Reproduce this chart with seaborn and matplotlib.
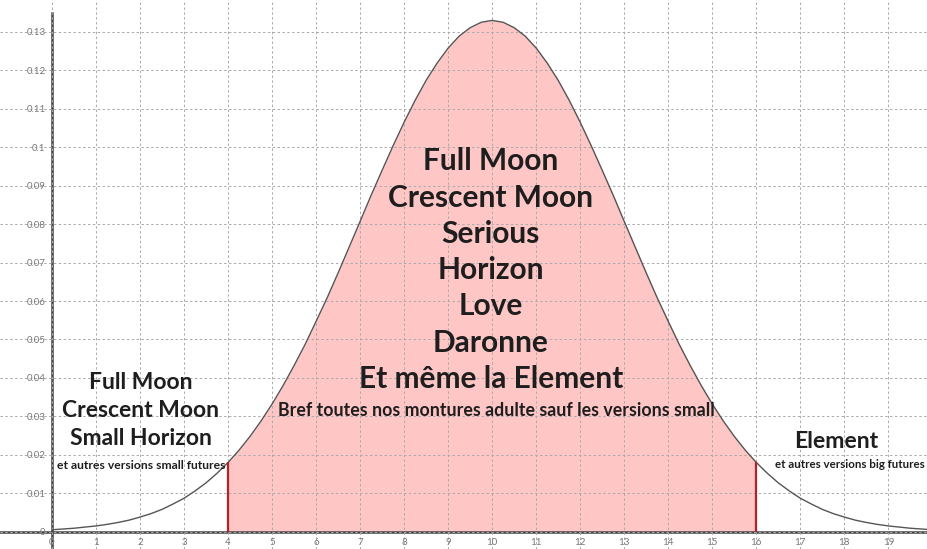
import numpy as np
import matplotlib
matplotlib.use("Agg")
import matplotlib.pyplot as plt
import seaborn as sns

# curve (density vs size), step 0.25
x_vals = [0, 0.25, 0.5, 0.75, 1, 1.25, 1.5, 1.75, 2, 2.25, 2.5, 2.75, 3, 3.25, 3.5, 3.75,
          4, 4.25, 4.5, 4.75, 5, 5.25, 5.5, 5.75, 6, 6.25, 6.5, 6.75, 7, 7.25, 7.5, 7.75,
          8, 8.25, 8.5, 8.75, 9, 9.25, 9.5, 9.75, 10, 10.25, 10.5, 10.75, 11, 11.25, 11.5,
          11.75, 12, 12.25, 12.5, 12.75, 13, 13.25, 13.5, 13.75, 14, 14.25, 14.5, 14.75,
          15, 15.25, 15.5, 15.75, 16, 16.25, 16.5, 16.75, 17, 17.25, 17.5, 17.75, 18, 18.25,
          18.5, 18.75, 19, 19.25, 19.5, 19.75, 20]
y_vals = [0.0005, 0.0007, 0.0009, 0.0012, 0.0015, 0.0019, 0.0024, 0.0030, 0.0038, 0.0047,
          0.0058, 0.0072, 0.0087, 0.0106, 0.0127, 0.0152, 0.0180, 0.0212, 0.0248, 0.0288,
          0.0332, 0.0380, 0.0432, 0.0487, 0.0547, 0.0608, 0.0673, 0.0740, 0.0807, 0.0875,
          0.0940, 0.1004, 0.1065, 0.1122, 0.1174, 0.1219, 0.1258, 0.1289, 0.1311, 0.1325,
          0.1330, 0.1325, 0.1311, 0.1289, 0.1258, 0.1219, 0.1174, 0.1122, 0.1065, 0.1004,
          0.0940, 0.0875, 0.0807, 0.0740, 0.0673, 0.0608, 0.0547, 0.0487, 0.0432, 0.0380,
          0.0332, 0.0288, 0.0248, 0.0212, 0.0180, 0.0152, 0.0127, 0.0106, 0.0087, 0.0072,
          0.0058, 0.0047, 0.0038, 0.0030, 0.0024, 0.0019, 0.0015, 0.0012, 0.0009, 0.0007,
          0.0005]
range_low, range_high = 4, 16

x_ticks = list(range(0, 20))
y_ticks = [0, 0.01, 0.02, 0.03, 0.04, 0.05, 0.06, 0.07, 0.08, 0.09, 0.1, 0.11, 0.12, 0.13]
y_tick_labels = ["0", "0.01", "0.02", "0.03", "0.04", "0.05", "0.06", "0.07", "0.08",
                 "0.09", "0.1", "0.11", "0.12", "0.13"]

center_text = "Full Moon\nCrescent Moon\nSerious\nHorizon\nLove\nDaronne\nEt même la Element"
center_note = "Bref toutes nos montures adulte sauf les versions small"
left_text = "Full Moon\nCrescent Moon\nSmall Horizon"
left_note = "et autres versions small futures"
right_text = "Element"
right_note = "et autres versions big futures"

sns.set_style("white")
plt.rcParams["font.family"] = ["Lato", "DejaVu Sans"]

fig = plt.figure(figsize=(9.28, 5.49), dpi=100)
ax = fig.add_axes([0, 0, 1, 1])

xs = np.array(x_vals)
ys = np.array(y_vals)
mask = (xs >= range_low) & (xs <= range_high)
ax.fill_between(xs, ys, where=mask, color="#ffc6c6", linewidth=0, zorder=1)
sns.lineplot(x=x_vals, y=y_vals, ax=ax, color="#555555", linewidth=1.0, zorder=3)
edge_y = [y_vals[x_vals.index(range_low)], y_vals[x_vals.index(range_high)]]
ax.vlines([range_low, range_high], 0, edge_y, color="#b5202a", linewidth=1.6, zorder=4)

ax.set_xlim(-1.18, 19.9)
ax.set_ylim(-0.0045, 0.1383)

ax.set_xticks(x_ticks)
ax.set_xticklabels([str(t) for t in x_ticks])
ax.set_yticks(y_ticks)
ax.set_yticklabels(y_tick_labels)
ax.xaxis.get_majorticklabels()[0].set_horizontalalignment("left")

ax.grid(True, color="#aaaaaa", linestyle=(0, (2.5, 2.5)), linewidth=0.7)
ax.set_axisbelow(False)

for side in ["top", "right"]:
    ax.spines[side].set_visible(False)
ax.spines["left"].set_position(("data", 0))
ax.spines["bottom"].set_position(("data", 0))
ax.spines["left"].set_bounds(-0.0045, 0.135)
for side in ["left", "bottom"]:
    ax.spines[side].set_color("#444444")
    ax.spines[side].set_linewidth(1.8)
ax.tick_params(axis="both", direction="inout", length=5, width=1, color="#444444",
               labelsize=7, labelcolor="#777777", pad=2)

ax.text(9.97, 0.1000, center_text, ha="center", va="top", fontsize=21.5,
        fontweight="bold", color="#1e1e1e", linespacing=1.36, zorder=5)
ax.text(10.1, 0.0314, center_note, ha="center", va="center", fontsize=12.8,
        fontweight="bold", color="#1e1e1e", zorder=5)
ax.text(2.02, 0.0415, left_text, ha="center", va="top", fontsize=16.5,
        fontweight="bold", color="#1e1e1e", linespacing=1.4, zorder=5)
ax.text(2.02, 0.0172, left_note, ha="center", va="center", fontsize=8.7,
        fontweight="bold", color="#1e1e1e", zorder=5)
ax.text(17.82, 0.0234, right_text, ha="center", va="center", fontsize=16.6,
        fontweight="bold", color="#1e1e1e", zorder=5)
ax.text(16.43, 0.0175, right_note, ha="left", va="center", fontsize=8.3,
        fontweight="bold", color="#1e1e1e", zorder=5)

fig.savefig("out.png", dpi=100)
